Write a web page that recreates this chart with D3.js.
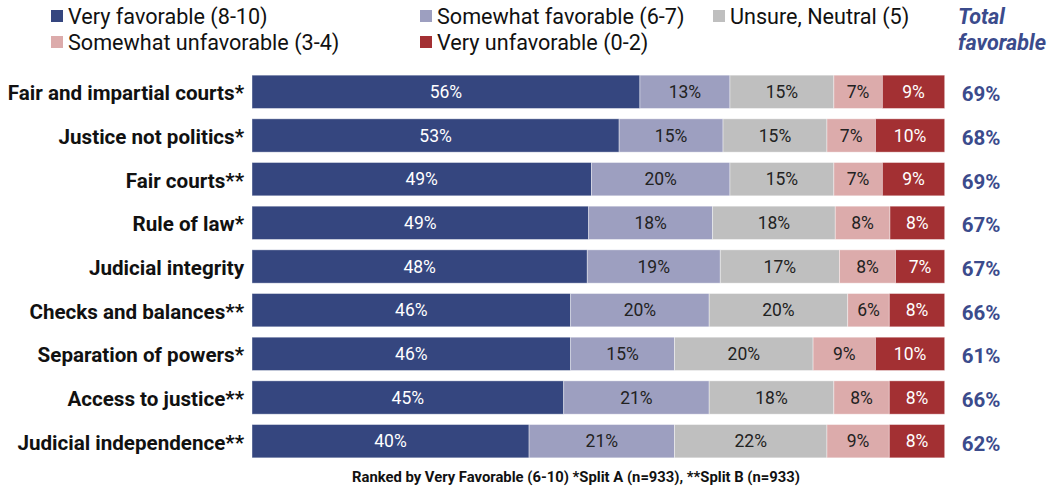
<!DOCTYPE html>
<html>
<head>
<meta charset="utf-8">
<script src="https://cdn.jsdelivr.net/npm/d3@7"></script>
<style>
  body { margin: 0; background: #fff; }
  svg { font-family: Roboto, "Noto Sans", sans-serif; }
</style>
</head>
<body>
<div id="chart"></div>
<script>
// data
const categories = [
  "Fair and impartial courts*",
  "Justice not politics*",
  "Fair courts**",
  "Rule of law*",
  "Judicial integrity",
  "Checks and balances**",
  "Separation of powers*",
  "Access to justice**",
  "Judicial independence**"
];
const seriesNames = [
  "Very favorable (8-10)",
  "Somewhat favorable (6-7)",
  "Unsure, Neutral (5)",
  "Somewhat unfavorable (3-4)",
  "Very unfavorable (0-2)"
];
const veryFav = [56, 53, 49, 48.6, 48.4, 46, 46, 45, 40];
const somewhatFav = [13, 15, 20, 17.9, 19.2, 20, 15, 21, 21];
const unsure = [15, 15, 15, 17.7, 17.2, 20, 20, 18, 22];
const somewhatUnfav = [7, 7, 7, 7.9, 8.1, 6, 9, 8, 9];
const veryUnfav = [9, 10, 9, 7.9, 7.1, 8, 10, 8, 8];
const totalFav = [69, 68, 69, 67, 67, 66, 61, 66, 62];

const colors = ["#35467f", "#9d9fc0", "#bfbfbf", "#dcabab", "#a33033"];
const labelColors = ["#fff", "#222", "#222", "#222", "#fff"];

const width = 1050, height = 487;
const svg = d3.select("#chart").append("svg")
  .attr("width", width).attr("height", height);

const x = d3.scaleLinear().domain([0, 100]).range([252, 944.7]);
const y = d3.scaleBand().domain(categories).range([70, 463]).paddingInner(0.237).paddingOuter(0.118);

const series = [veryFav, somewhatFav, unsure, somewhatUnfav, veryUnfav];
const rows = categories.map((c, i) => {
  const r = { cat: c };
  seriesNames.forEach((s, j) => r[s] = series[j][i]);
  return r;
});
const stacked = d3.stack().keys(seriesNames)(rows);

// bars
const layer = svg.append("g").selectAll("g")
  .data(stacked)
  .join("g")
  .attr("fill", (d, i) => colors[i]);

layer.selectAll("rect")
  .data(d => d)
  .join("rect")
  .attr("x", d => x(d[0]))
  .attr("y", d => y(d.data.cat))
  .attr("width", d => x(d[1]) - x(d[0]))
  .attr("height", y.bandwidth())
  .attr("stroke", "#fff")
  .attr("stroke-opacity", 0.5)
  .attr("stroke-width", 0.8);

// value labels
layer.each(function(s, i) {
  d3.select(this).selectAll("text")
    .data(s)
    .join("text")
    .attr("x", d => (x(d[0]) + x(d[1])) / 2)
    .attr("y", d => y(d.data.cat) + y.bandwidth() / 2)
    .attr("dy", "0.36em")
    .attr("text-anchor", "middle")
    .attr("font-size", 17.5)
    .attr("fill", labelColors[i])
    .text(d => Math.round(d[1] - d[0]) + "%");
});

// category labels
svg.append("g").selectAll("text")
  .data(categories)
  .join("text")
  .attr("x", 244)
  .attr("y", d => y(d) + y.bandwidth() / 2 + 1)
  .attr("dy", "0.36em")
  .attr("text-anchor", "end")
  .attr("font-size", 20.6)
  .attr("font-weight", "bold")
  .attr("fill", "#111")
  .text(d => d);

// total favorable column
svg.append("g").selectAll("text")
  .data(totalFav)
  .join("text")
  .attr("x", 981)
  .attr("y", (d, i) => y(categories[i]) + y.bandwidth() / 2 + 2)
  .attr("dy", "0.36em")
  .attr("text-anchor", "middle")
  .attr("font-size", 20.5)
  .attr("font-weight", "bold")
  .attr("fill", "#3b4b8c")
  .text(d => d + "%");

// legend
const legendPos = [[51, 16], [420, 16], [713, 16], [51, 42], [420, 42]];
const legend = svg.append("g").selectAll("g")
  .data(seriesNames)
  .join("g")
  .attr("transform", (d, i) => `translate(${legendPos[i][0]},${legendPos[i][1]})`);
legend.append("rect")
  .attr("x", 0).attr("y", -6)
  .attr("width", 12).attr("height", 12)
  .attr("fill", (d, i) => colors[i]);
legend.append("text")
  .attr("x", 17)
  .attr("dy", "0.36em")
  .attr("font-size", 21.6)
  .attr("fill", "#111")
  .text(d => d);

svg.append("g").selectAll("text")
  .data(["Total", "favorable"])
  .join("text")
  .attr("x", 958)
  .attr("y", (d, i) => 16 + i * 26)
  .attr("dy", "0.36em")
  .attr("font-size", 21.6)
  .attr("font-weight", "bold")
  .attr("font-style", "italic")
  .attr("fill", "#3b4b8c")
  .text(d => d);

// footnote
svg.append("text")
  .attr("x", 576)
  .attr("y", 477)
  .attr("dy", "0.36em")
  .attr("text-anchor", "middle")
  .attr("font-size", 14.8)
  .attr("font-weight", "bold")
  .attr("fill", "#111")
  .text("Ranked by Very Favorable (6-10) *Split A (n=933), **Split B (n=933)");
</script>
</body>
</html>
